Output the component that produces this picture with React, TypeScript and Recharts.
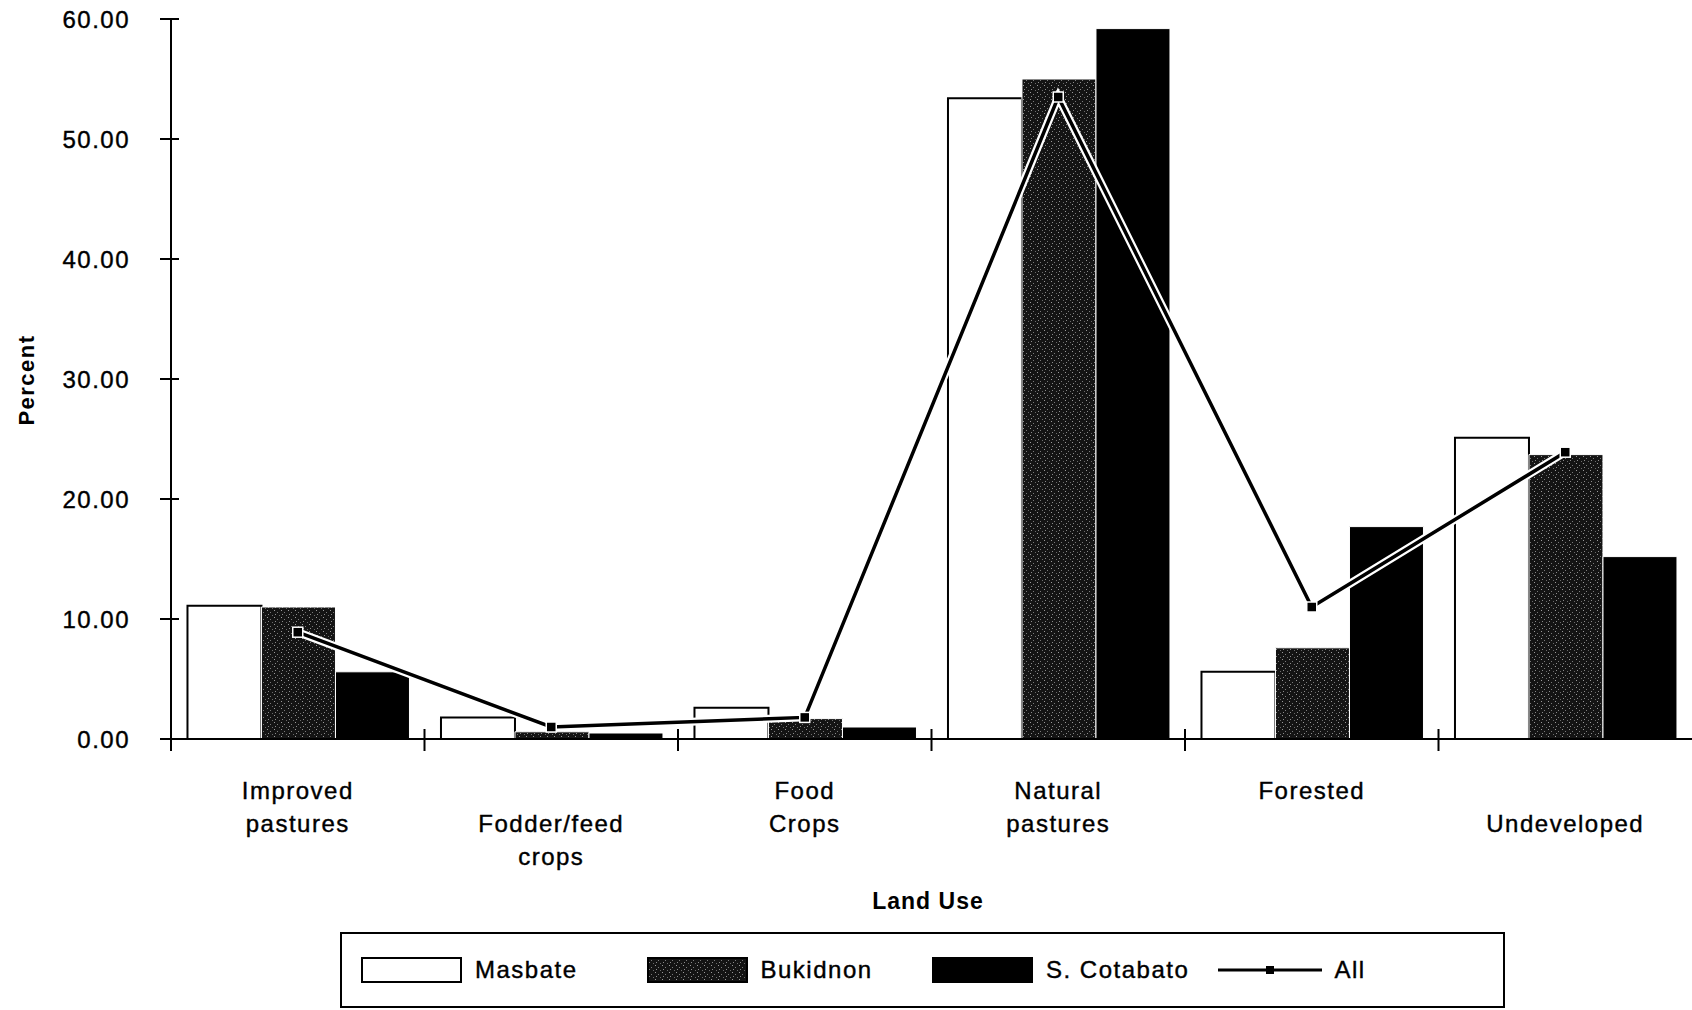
import { Bar, ComposedChart, Line, XAxis, YAxis } from "recharts";

// ── data ─────────────────────────────────────────────
const categories = [
	"Improved pastures",
	"Fodder/feed crops",
	"Food Crops",
	"Natural pastures",
	"Forested",
	"Undeveloped",
];
// label lines under each category (empty string = blank line)
const categoryLines = [
	["Improved", "pastures"],
	["", "Fodder/feed", "crops"],
	["Food", "Crops"],
	["Natural", "pastures"],
	["Forested"],
	["", "Undeveloped"],
];
const masbate = [11.1, 1.8, 2.6, 53.4, 5.6, 25.1];
const bukidnon = [11.0, 0.6, 1.7, 55.0, 7.6, 23.7];
const sCotabato = [5.6, 0.5, 1.0, 59.2, 17.7, 15.2];
const allSites = [8.9, 1.0, 1.8, 53.5, 11.0, 23.9];
const yTicks = [0, 10, 20, 30, 40, 50, 60];
const seriesNames = ["Masbate", "Bukidnon", "S. Cotabato", "All"];

const data = categories.map((c, i) => ({
	name: c,
	masbate: masbate[i],
	bukidnon: bukidnon[i],
	sCotabato: sCotabato[i],
	all: allSites[i],
}));

// ── layout ───────────────────────────────────────────
const W = 1692;
const H = 1010;
const AXIS_X = 171;
const BAND = (W - AXIS_X) / categories.length;
const FONT = "'Liberation Sans', Arial, Helvetica, sans-serif";

function StippleDefs({ id }: { id: string }) {
	return (
		<defs>
			<pattern id={id} width={7} height={7} patternUnits="userSpaceOnUse">
				<rect width={7} height={7} fill="#141414" />
				<rect x={1} y={1} width={1} height={1} fill="#9a9a9a" />
				<rect x={4} y={3} width={1} height={1} fill="#7a7a7a" />
				<rect x={2} y={5} width={1} height={1} fill="#8a8a8a" />
				<rect x={6} y={6} width={1} height={1} fill="#6a6a6a" />
			</pattern>
		</defs>
	);
}

function YTick({ x, y, payload }: any) {
	return (
		<g>
			<line x1={x + 30} x2={x + 49} y1={y} y2={y} stroke="#000" strokeWidth={2} />
			<text
				x={x}
				y={y}
				dy="0.36em"
				textAnchor="end"
				fontSize={24}
				fontFamily={FONT}
				letterSpacing={1.5}
				fill="#000"
				stroke="#000"
				strokeWidth={0.4}
			>
				{Number(payload.value).toFixed(2)}
			</text>
		</g>
	);
}

function XTick({ x, y, index }: any) {
	const lines = categoryLines[index] ?? [];
	const left = x - BAND / 2;
	return (
		<g>
			<line x1={left} x2={left} y1={y - 10} y2={y + 12} stroke="#000" strokeWidth={2} />
			{lines.map((ln, k) =>
				ln ? (
					<text
						key={k}
						x={x}
						y={y + 60 + k * 33}
						textAnchor="middle"
						fontSize={24}
						fontFamily={FONT}
						letterSpacing={1.5}
						fill="#000"
						stroke="#000"
						strokeWidth={0.4}
					>
						{ln}
					</text>
				) : null,
			)}
		</g>
	);
}

function SquareDot({ cx, cy, index }: any) {
	if (cx == null || cy == null) return null;
	return (
		<rect
			key={`dot-${index}`}
			x={cx - 5}
			y={cy - 5}
			width={10}
			height={10}
			fill="#000"
			stroke="#fff"
			strokeWidth={1.5}
		/>
	);
}

function Swatch({ kind }: { kind: number }) {
	if (kind === 3) {
		return (
			<svg width={104} height={26}>
				<line x1={0} x2={104} y1={13} y2={13} stroke="#000" strokeWidth={3} />
				<rect x={48} y={9} width={8} height={8} fill="#000" />
			</svg>
		);
	}
	return (
		<svg width={101} height={26}>
			{kind === 1 && <StippleDefs id="stippleLegend" />}
			<rect
				x={1}
				y={1}
				width={99}
				height={24}
				fill={kind === 0 ? "#fff" : kind === 1 ? "url(#stippleLegend)" : "#000"}
				stroke="#000"
				strokeWidth={2}
			/>
		</svg>
	);
}

export default function App() {
	return (
		<div style={{ position: "absolute", left: 0, top: 0, width: W, height: H, background: "#fff", fontFamily: FONT }}>
			<ComposedChart
				width={W}
				height={H}
				data={data}
				margin={{ top: 19, right: 0, bottom: 0, left: 0 }}
				barCategoryGap="6.5%"
				barGap={0}
			>
				<StippleDefs id="stipple" />
				<YAxis
					type="number"
					domain={[0, 60]}
					ticks={yTicks}
					width={AXIS_X}
					tickSize={0}
					tickMargin={41}
					tickLine={false}
					axisLine={{ stroke: "#000", strokeWidth: 2 }}
					tick={<YTick />}
					interval={0}
				/>
				<XAxis
					dataKey="name"
					height={H - 19 - 720}
					tickSize={0}
					tickMargin={0}
					tickLine={false}
					axisLine={{ stroke: "#000", strokeWidth: 2 }}
					tick={<XTick />}
					interval={0}
				/>
				<Bar dataKey="masbate" name={seriesNames[0]} fill="#fff" stroke="#000" strokeWidth={2} isAnimationActive={false} />
				<Bar dataKey="bukidnon" name={seriesNames[1]} fill="url(#stipple)" stroke="#fff" strokeWidth={1} isAnimationActive={false} />
				<Bar dataKey="sCotabato" name={seriesNames[2]} fill="#000" stroke="#fff" strokeWidth={1} isAnimationActive={false} />
				<Line
					dataKey="all"
					stroke="#fff"
					strokeWidth={8}
					dot={false}
					activeDot={false}
					legendType="none"
					isAnimationActive={false}
				/>
				<Line
					dataKey="all"
					name={seriesNames[3]}
					stroke="#000"
					strokeWidth={3.5}
					dot={<SquareDot />}
					activeDot={false}
					isAnimationActive={false}
				/>
			</ComposedChart>

			{/* axis titles */}
			<div
				style={{
					position: "absolute",
					left: 27,
					top: 380,
					transform: "translate(-50%, -50%) rotate(-90deg)",
					fontSize: 22,
					fontWeight: "bold",
					letterSpacing: 1.5,
					whiteSpace: "nowrap",
				}}
			>
				Percent
			</div>
			<div
				style={{
					position: "absolute",
					left: 928,
					top: 901,
					transform: "translate(-50%, -50%)",
					fontSize: 23,
					fontWeight: "bold",
					letterSpacing: 1,
					whiteSpace: "nowrap",
				}}
			>
				Land Use
			</div>

			{/* legend */}
			<div
				style={{
					position: "absolute",
					left: 340,
					top: 932,
					width: 1165,
					height: 76,
					border: "2px solid #000",
					boxSizing: "border-box",
					display: "flex",
					alignItems: "center",
					paddingLeft: 19,
				}}
			>
				{seriesNames.map((s, i) => (
					<div key={s} style={{ width: 287, display: "flex", alignItems: "center", gap: 13 }}>
						<Swatch kind={i} />
						<span style={{ fontSize: 24, letterSpacing: 1.5, WebkitTextStroke: "0.4px #000" }}>{s}</span>
					</div>
				))}
			</div>
		</div>
	);
}
